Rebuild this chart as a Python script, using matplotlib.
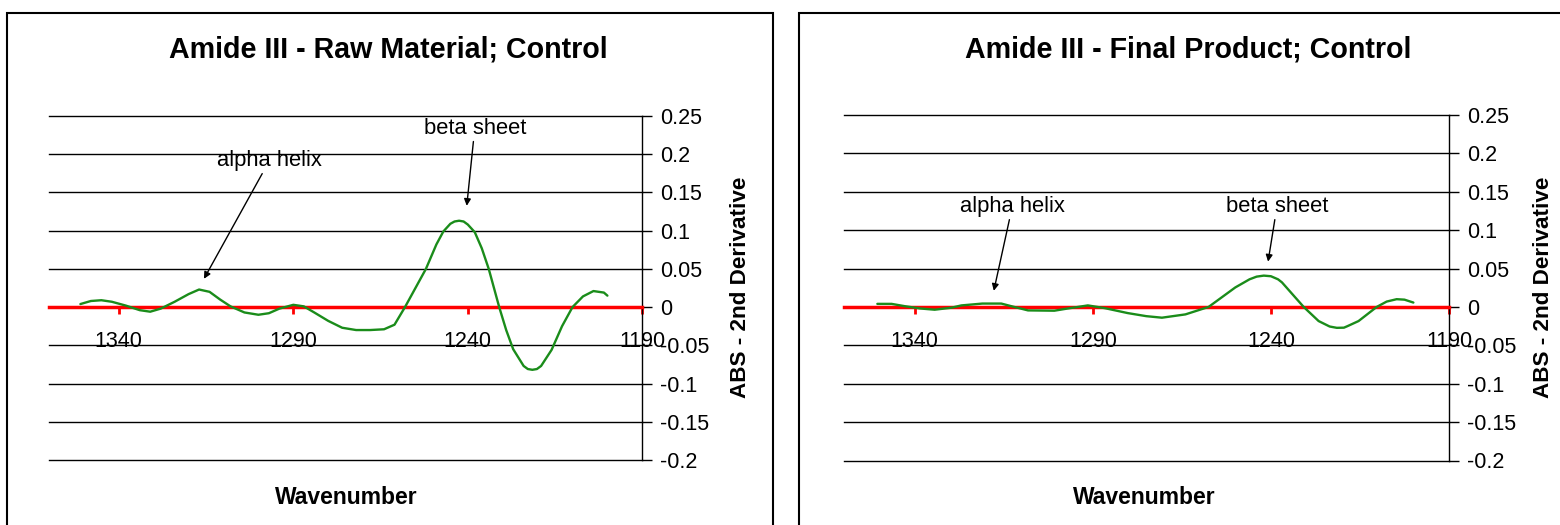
import matplotlib
matplotlib.use("Agg")
import matplotlib.pyplot as plt
from matplotlib.patches import Rectangle

plt.rcParams['font.family'] = ['Liberation Sans', 'DejaVu Sans']

# Raw material spectrum (2nd derivative)
raw_wn = [1351, 1348, 1345, 1342, 1338, 1334, 1331, 1328, 1324, 1320,
          1317, 1314, 1311, 1308, 1304, 1300, 1297, 1294, 1290, 1287,
          1284, 1280, 1276, 1272, 1268, 1264, 1261, 1258, 1255, 1252,
          1249, 1247, 1245, 1243.8, 1242.5, 1241.2, 1240, 1238, 1236, 1234,
          1231, 1229, 1227, 1224, 1222.8, 1221.5, 1220.2, 1219, 1216, 1213,
          1210, 1207, 1204, 1201, 1200]
raw_abs = [0.004, 0.008, 0.009, 0.007, 0.002, -0.004, -0.006, -0.002, 0.007, 0.017,
           0.023, 0.020, 0.010, 0.001, -0.007, -0.010, -0.008, -0.002, 0.003, 0.001,
           -0.007, -0.018, -0.027, -0.030, -0.030, -0.029, -0.023, 0.000, 0.025, 0.050,
           0.082, 0.099, 0.109, 0.112, 0.113, 0.112, 0.108, 0.098, 0.077, 0.050,
           0.000, -0.030, -0.055, -0.077, -0.081, -0.082, -0.081, -0.077, -0.056, -0.025,
           0.000, 0.014, 0.021, 0.019, 0.015]

# Final product spectrum
final_wn = [1350.5, 1346.5, 1342.8, 1338.5, 1334.4, 1329.7, 1326.9, 1321, 1315.7, 1312.9,
            1308.2, 1300.8, 1297, 1291.4, 1286.7, 1280.2, 1275, 1270.6, 1264, 1257.5,
            1250, 1246, 1244, 1242, 1240, 1238, 1236.9, 1230.8, 1226.6, 1223.5,
            1221.5, 1219.5, 1218.5, 1215.4, 1210.3, 1207.5, 1204.7, 1202.5, 1200]
final_abs = [0.004, 0.004, 0.001, -0.002, -0.0036, -0.001, 0.002, 0.0044, 0.0044, 0.001,
             -0.0045, -0.0049, -0.002, 0.002, -0.0015, -0.008, -0.012, -0.014, -0.0097, 0.0,
             0.0254, 0.036, 0.0395, 0.0408, 0.040, 0.036, 0.032, 0.0, -0.0184, -0.0255,
             -0.0272, -0.027, -0.025, -0.0184, 0.0, 0.007, 0.0101, 0.0095, 0.0057]

titles = ['Amide III - Raw Material; Control', 'Amide III - Final Product; Control']
x_ticks = [1340, 1290, 1240, 1190]
y_ticks = [0.25, 0.2, 0.15, 0.1, 0.05, 0, -0.05, -0.1, -0.15, -0.2]

# (label, text position, arrow tip) in data units
raw_notes = [('alpha helix', (1296.8, 0.192), (1315.6, 0.037)),
             ('beta sheet', (1238.0, 0.234), (1240.3, 0.1325))]
final_notes = [('alpha helix', (1312.6, 0.131), (1317.8, 0.021)),
               ('beta sheet', (1238.3, 0.131), (1240.8, 0.059))]

W, H = 1560, 525
fig = plt.figure(figsize=(W / 100, H / 100), dpi=100)

panels = [
    dict(wn=raw_wn, ab=raw_abs, notes=raw_notes, title=titles[0],
         ax=(49, 642.3, 116, 460), box=7, tx=388, xl=346.5, yl=741),
    dict(wn=final_wn, ab=final_abs, notes=final_notes, title=titles[1],
         ax=(843.5, 1449, 115, 460.5), box=799, tx=1188.5, xl=1144.7, yl=1543.7),
]

for p in panels:
    x0, x1, ytop, ybot = p['ax']
    ax = fig.add_axes([x0 / W, 1 - ybot / H, (x1 - x0) / W, (ybot - ytop) / H])
    ax.set_xlim(1360, 1190)
    ax.set_ylim(-0.2, 0.25)

    ax.yaxis.grid(True, color='black', lw=1)
    ax.set_axisbelow(True)
    ax.plot(p['wn'], p['ab'], color='#1a8c1a', lw=1.7, zorder=3,
            solid_joinstyle='round', solid_capstyle='round')

    for side in ['left', 'top']:
        ax.spines[side].set_visible(False)
    ax.spines['right'].set_color('black')
    ax.spines['right'].set_linewidth(1)
    ax.spines['bottom'].set_position(('data', 0))
    ax.spines['bottom'].set_color('red')
    ax.spines['bottom'].set_linewidth(2.5)
    ax.spines['bottom'].set_zorder(2.5)

    ax.set_xticks(x_ticks)
    ax.set_xticklabels([str(t) for t in x_ticks])
    ax.tick_params(axis='x', colors='red', length=5, width=2, direction='out',
                   pad=12, labelcolor='black', labelsize=15.5)

    ax.yaxis.tick_right()
    ax.set_yticks(y_ticks)
    ax.set_yticklabels([f'{t:g}' for t in y_ticks])
    ax.tick_params(axis='y', colors='black', length=7, width=1, direction='out',
                   pad=6, labelsize=15.5)
    for gl in ax.get_ygridlines():
        gl.set_clip_on(False)

    for label, txt, tip in p['notes']:
        ax.annotate(label, xy=tip, xytext=txt, ha='center', va='center', fontsize=15.8,
                    arrowprops=dict(arrowstyle='-|>', color='black', lw=1,
                                    mutation_scale=10, shrinkA=0, shrinkB=0))

    fig.text(p['tx'] / W, 1 - 50 / H, p['title'], ha='center', va='center',
             fontsize=20.6, fontweight='bold')
    fig.text(p['xl'] / W, 1 - 497 / H, 'Wavenumber', ha='center', va='center',
             fontsize=16.5, fontweight='bold')
    fig.text(p['yl'] / W, 1 - 287 / H, 'ABS - 2nd Derivative', ha='center', va='center',
             rotation=90, fontsize=16.2, fontweight='bold')

    fig.add_artist(Rectangle((p['box'] / W, -0.05), 766 / W, 1.05 - 12.7 / H,
                             transform=fig.transFigure, fill=False, ec='black', lw=1.5))

fig.savefig('out.png', dpi=100)
